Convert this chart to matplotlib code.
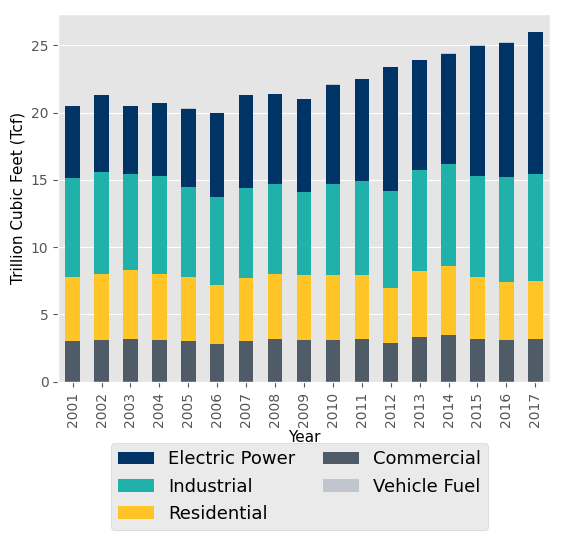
import numpy as np
import matplotlib
matplotlib.use("Agg")
import matplotlib.pyplot as plt

plt.style.use("ggplot")

years = list(range(2001, 2018))
commercial = [3.0, 3.1, 3.2, 3.1, 3.0, 2.8, 3.0, 3.2, 3.1, 3.1, 3.2, 2.9, 3.3, 3.5, 3.2, 3.1, 3.2]
residential = [4.8, 4.9, 5.1, 4.9, 4.8, 4.4, 4.7, 4.8, 4.8, 4.8, 4.7, 4.1, 4.9, 5.1, 4.6, 4.3, 4.3]
industrial = [7.3, 7.6, 7.1, 7.3, 6.7, 6.5, 6.7, 6.7, 6.2, 6.8, 7.0, 7.2, 7.5, 7.6, 7.5, 7.8, 7.9]
electric = [5.35, 5.67, 5.07, 5.37, 5.77, 6.27, 6.87, 6.67, 6.87, 7.37, 7.57, 9.17, 8.17, 8.17, 9.67, 9.97, 10.57]
vehicle = [0.03] * 17

series = [
    ("Commercial", commercial, "#4f5b66"),
    ("Residential", residential, "#ffc425"),
    ("Industrial", industrial, "#20b2aa"),
    ("Electric Power", electric, "#003366"),
    ("Vehicle Fuel", vehicle, "#c0c5ce"),
]

fig = plt.figure(figsize=(5.65, 5.47), dpi=100)
ax = fig.add_axes([0.103, 0.302, 0.870, 0.672])
x = np.arange(len(years))
bottom = np.zeros(len(years))
handles = {}
for name, vals, col in series:
    h = ax.bar(x, vals, 0.5, bottom=bottom, color=col, label=name)
    handles[name] = h
    bottom += np.array(vals)

ax.set_xticks(x)
ax.set_xticklabels([str(y) for y in years], rotation=90)
ax.set_xlim(-0.5, len(years) - 0.5)
ax.set_ylim(0, 27.3)
ax.set_xlabel("Year", color="black", fontsize=11, labelpad=2)
ax.set_ylabel("Trillion Cubic Feet (Tcf)", color="black", fontsize=11)
ax.grid(axis="x", visible=False)

order = ["Electric Power", "Industrial", "Residential", "Commercial", "Vehicle Fuel"]
fig.legend([handles[n] for n in order], order, ncol=2, fontsize=13,
           loc="lower center", bbox_to_anchor=(0.53, 0.015), facecolor="#e5e5e5",
           edgecolor="#cccccc", columnspacing=1.5)
fig.savefig("out.png", dpi=100)
